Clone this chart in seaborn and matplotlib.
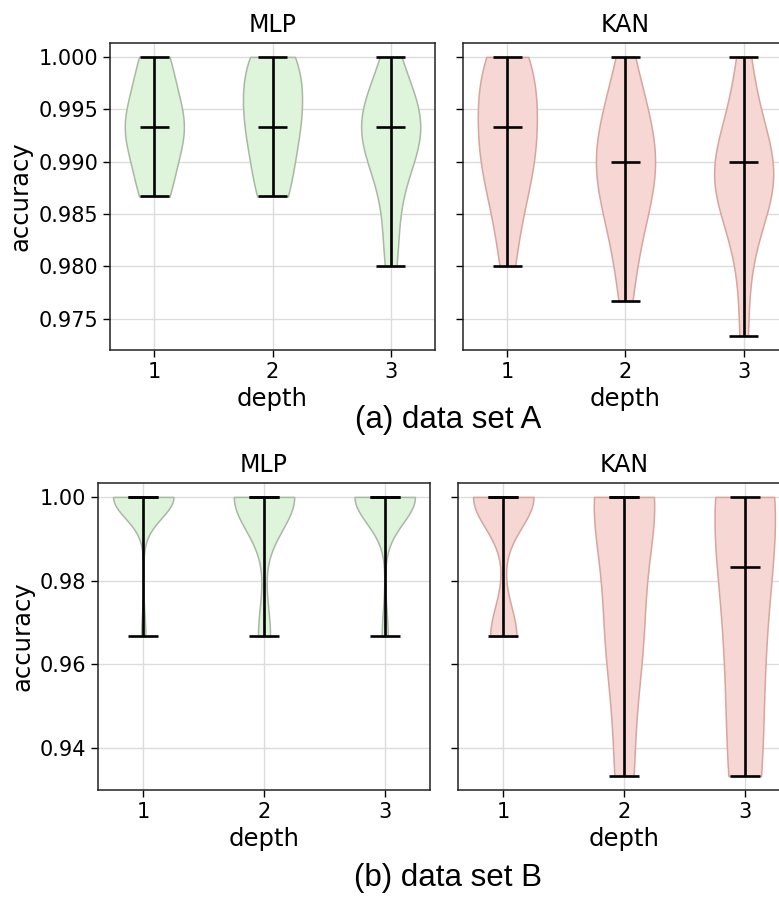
import numpy as np
import pandas as pd
import seaborn as sns
import matplotlib.pyplot as plt

plt.rcParams['font.family'] = ['DejaVu Sans']

# accuracy values, one list per (data set, model, depth)
depths = [1, 2, 3]
models = ['MLP', 'KAN']

# data set A (steps of 1/300)
a_mlp_1 = [1.0, 1.0, 0.99667, 0.99667, 0.99333, 0.99333, 0.99333, 0.99333, 0.99, 0.99, 0.98667, 0.98667]
a_mlp_2 = [1.0, 1.0, 1.0, 0.99667, 0.99667, 0.99667, 0.99333, 0.99333, 0.99333, 0.99, 0.99, 0.98667, 0.98667]
a_mlp_3 = [1.0, 0.99667, 0.99667, 0.99667, 0.99333, 0.99333, 0.99333, 0.99333, 0.99333, 0.99, 0.99, 0.99, 0.98667, 0.98333, 0.98]
a_kan_1 = [1.0, 1.0, 1.0, 0.99667, 0.99667, 0.99667, 0.99333, 0.99333, 0.99333, 0.99, 0.99, 0.99, 0.98667, 0.98667, 0.98333, 0.98]
a_kan_2 = [1.0, 0.99667, 0.99667, 0.99333, 0.99333, 0.99333, 0.99, 0.99, 0.99, 0.99, 0.98667, 0.98667, 0.98667, 0.98333, 0.98333, 0.98, 0.97667]
a_kan_3 = [1.0, 0.99667, 0.99333, 0.99333, 0.99, 0.99, 0.99, 0.99, 0.98667, 0.98667, 0.98667, 0.98667, 0.98333, 0.98, 0.97333]

# data set B (steps of 1/30)
b_mlp_1 = [1.0] * 14 + [0.96667]
b_mlp_2 = [1.0] * 10 + [0.96667] * 2
b_mlp_3 = [1.0] * 10 + [0.96667]
b_kan_1 = [1.0] * 30 + [0.96667] * 13
b_kan_2 = [1.0] * 7 + [0.96667] * 4 + [0.93333] * 2
b_kan_3 = [1.0] * 4 + [0.96667] * 2 + [0.93333] * 2

runs = {
    ('A', 'MLP'): [a_mlp_1, a_mlp_2, a_mlp_3],
    ('A', 'KAN'): [a_kan_1, a_kan_2, a_kan_3],
    ('B', 'MLP'): [b_mlp_1, b_mlp_2, b_mlp_3],
    ('B', 'KAN'): [b_kan_1, b_kan_2, b_kan_3],
}

rows = []
for (ds, model), lists in runs.items():
    for d, vals in zip(depths, lists):
        for v in vals:
            rows.append({'dataset': ds, 'model': model, 'depth': d, 'accuracy': v})
df = pd.DataFrame(rows)

fill = {'MLP': '#dff5db', 'KAN': '#f6d7d4'}
edge = {'MLP': '#a9b8a5', 'KAN': '#d6a5a0'}

W, H = 779, 898
fig = plt.figure(figsize=(W / 100, H / 100), dpi=100)


def box(l, r, t, b):
    return [l / W, 1 - b / H, (r - l) / W, (b - t) / H]


layout = {
    ('A', 'MLP'): box(110, 435, 43, 350),
    ('A', 'KAN'): box(463, 788, 43, 350),
    ('B', 'MLP'): box(98, 430, 483, 790),
    ('B', 'KAN'): box(458, 790, 483, 790),
}
ylims = {'A': (0.972, 1.00133), 'B': (0.93, 1.00333)}
yticks = {'A': [0.975, 0.980, 0.985, 0.990, 0.995, 1.000],
          'B': [0.94, 0.96, 0.98, 1.00]}
yfmt = {'A': '{:.3f}', 'B': '{:.2f}'}

for (ds, model), pos in layout.items():
    ax = fig.add_axes(pos)
    sub = df[(df.dataset == ds) & (df.model == model)]
    sns.violinplot(data=sub, x='depth', y='accuracy', native_scale=True,
                   density_norm='width', cut=0, inner=None, width=0.5,
                   color=fill[model], saturation=1, linecolor=edge[model],
                   linewidth=1.1, ax=ax, zorder=2)
    stats = sub.groupby('depth')['accuracy'].agg(['min', 'max', 'median'])
    x = stats.index.values
    ax.vlines(x, stats['min'], stats['max'], color='black', lw=1.9, zorder=3)
    for col in ['min', 'max', 'median']:
        ax.hlines(stats[col], x - 0.125, x + 0.125, color='black', lw=1.9, zorder=3)

    ax.set_xlim(0.625, 3.375)
    ax.set_ylim(*ylims[ds])
    ax.set_xticks(depths)
    ax.set_xticklabels([str(d) for d in depths])
    ax.set_yticks(yticks[ds])
    ax.grid(True, color='#dcdcdc', lw=1.0, zorder=0)
    ax.set_axisbelow(True)
    ax.tick_params(labelsize=15, length=5, width=1)
    for s in ax.spines.values():
        s.set_linewidth(1.1)
        s.set_color('#222222')
    ax.set_title(model, fontsize=17, pad=8)
    ax.set_xlabel('depth', fontsize=17.5)
    if model == 'MLP':
        ax.set_yticklabels([yfmt[ds].format(t) for t in yticks[ds]])
        ax.set_ylabel('accuracy', fontsize=17.5)
    else:
        ax.set_yticklabels([])
        ax.set_ylabel('')

fig.text(448 / W, 1 - 420 / H, '(a) data set A', ha='center', va='center',
         fontsize=22.5, family='Liberation Sans')
fig.text(448 / W, 1 - 878 / H, '(b) data set B', ha='center', va='center',
         fontsize=22.5, family='Liberation Sans')

fig.savefig('out.png', dpi=100)
